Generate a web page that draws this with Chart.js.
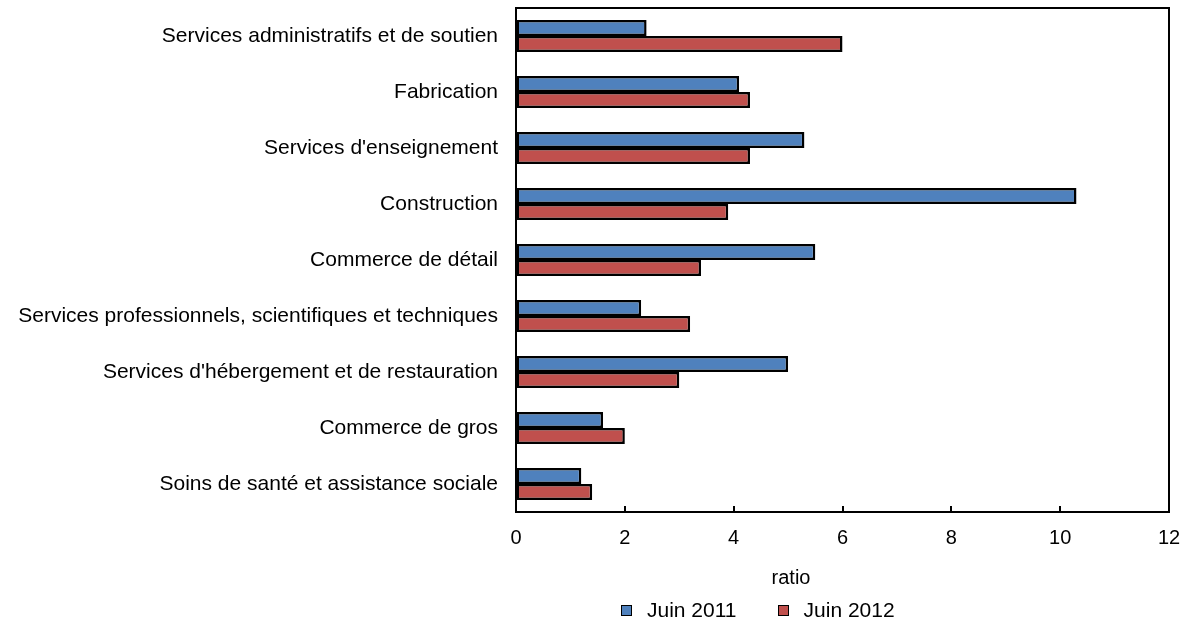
<!DOCTYPE html>
<html>
<head>
<meta charset="utf-8">
<script src="https://cdn.jsdelivr.net/npm/chart.js@4"></script>
<style>
    body { margin: 0; background: #fff; }
    #wrap { position: relative; width: 1183px; height: 622px; font-family: "Liberation Sans", Arial, sans-serif; }
    #axis-title { position: absolute; left: 791px; top: 577px; transform: translate(-50%, -50%); font-size: 20px; color: #000; }
    #legend { position: absolute; left: 621px; top: 598px; font-size: 21px; color: #000; display: flex; align-items: center; white-space: nowrap; }
    .box { width: 9px; height: 9px; border: 1.5px solid #000; display: inline-block; margin-right: 15px; }
</style>
</head>
<body>
<div id="wrap">
    <canvas id="chart" width="1183" height="622"></canvas>
    <div id="axis-title">ratio</div>
    <div id="legend">
        <span class="box" style="background:#4F81BD"></span><span style="margin-right:41px">Juin 2011</span>
        <span class="box" style="background:#C0504D"></span><span>Juin 2012</span>
    </div>
</div>
<script>
// 데이터
const categories = [
    'Services administratifs et de soutien',
    'Fabrication',
    "Services d'enseignement",
    'Construction',
    'Commerce de détail',
    'Services professionnels, scientifiques et techniques',
    "Services d'hébergement et de restauration",
    'Commerce de gros',
    'Soins de santé et assistance sociale'
];
const juin2011 = [2.4, 4.1, 5.3, 10.3, 5.5, 2.3, 5.0, 1.6, 1.2];
const juin2012 = [6.0, 4.3, 4.3, 3.9, 3.4, 3.2, 3.0, 2.0, 1.4];
const xTicks = [0, 2, 4, 6, 8, 10, 12];

// 테두리와 안쪽 눈금 그리기
const framePlugin = {
    id: 'frame',
    afterDraw(chart) {
        const { ctx, chartArea } = chart;
        const xs = chart.scales.x;
        ctx.save();
        ctx.strokeStyle = '#000';
        ctx.lineWidth = 2;
        ctx.strokeRect(chartArea.left, chartArea.top, chartArea.right - chartArea.left, chartArea.bottom - chartArea.top);
        xTicks.slice(1, -1).forEach(v => {
            const x = Math.round(xs.getPixelForValue(v));
            ctx.beginPath();
            ctx.moveTo(x, chartArea.bottom);
            ctx.lineTo(x, chartArea.bottom - 6);
            ctx.stroke();
        });
        ctx.restore();
    }
};

const ctx = document.getElementById('chart').getContext('2d');
new Chart(ctx, {
    type: 'bar',
    data: {
        labels: categories,
        datasets: [
            {
                label: 'Juin 2011',
                data: juin2011,
                backgroundColor: '#4F81BD',
                borderColor: '#000',
                borderWidth: 2.5,
                borderSkipped: false
            },
            {
                label: 'Juin 2012',
                data: juin2012,
                backgroundColor: '#C0504D',
                borderColor: '#000',
                borderWidth: 2.5,
                borderSkipped: false
            }
        ]
    },
    options: {
        indexAxis: 'y',
        responsive: false,
        animation: false,
        categoryPercentage: 0.57,
        barPercentage: 1,
        layout: {
            padding: { top: 8, right: 14, left: 0, bottom: 0 }
        },
        plugins: {
            legend: { display: false },
            tooltip: { enabled: false }
        },
        scales: {
            x: {
                min: 0,
                max: 12,
                afterBuildTicks: s => { s.ticks = xTicks.map(v => ({ value: v })); },
                afterFit: s => { s.height = 110; s.paddingLeft = 0; s.paddingRight = 0; },
                grid: { drawOnChartArea: false, drawTicks: false },
                border: { display: false },
                ticks: {
                    padding: 14,
                    color: '#000',
                    font: { family: 'Liberation Sans', size: 20 }
                }
            },
            y: {
                afterFit: s => { s.width = 516; s.paddingTop = 0; s.paddingBottom = 0; },
                grid: { display: false, drawTicks: false },
                border: { display: false },
                ticks: {
                    padding: 18,
                    color: '#000',
                    font: { family: 'Liberation Sans', size: 21 }
                }
            }
        }
    },
    plugins: [framePlugin]
});
</script>
</body>
</html>
